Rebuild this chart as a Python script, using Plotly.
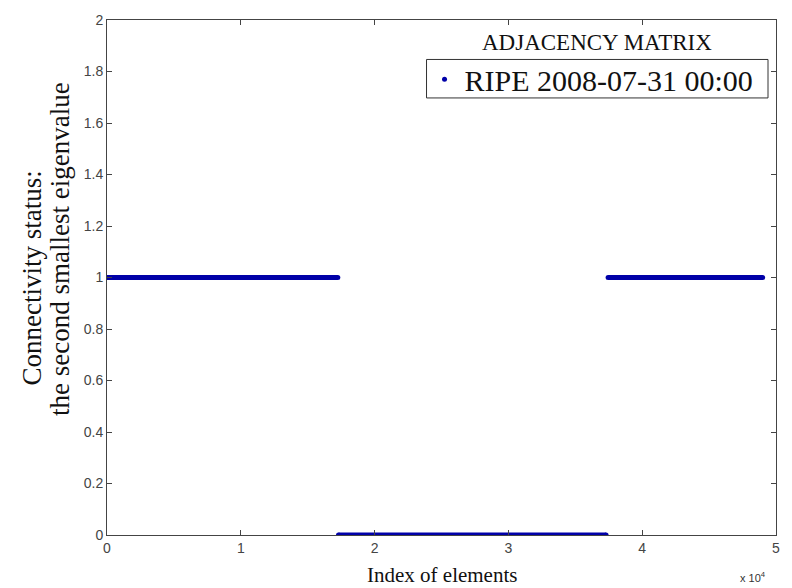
import plotly.graph_objects as go

# Segment endpoints (index of elements, eigenvalue)
seg1_x = [0, 17250]
seg1_y = [1, 1]
seg2_x = [17300, 37300]
seg2_y = [0, 0]
seg3_x = [37450, 49000]
seg3_y = [1, 1]

x_ticks = [0, 10000, 20000, 30000, 40000, 50000]
x_ticktext = ["0", "1", "2", "3", "4", "5"]
y_ticks = [0, 0.2, 0.4, 0.6, 0.8, 1, 1.2, 1.4, 1.6, 1.8, 2]
y_ticktext = ["0", "0.2", "0.4", "0.6", "0.8", "1", "1.2", "1.4", "1.6", "1.8", "2"]

series_name = "RIPE 2008-07-31 00:00"
legend_title = "ADJACENCY MATRIX"
y_title_lines = ["Connectivity status:", "the second smallest eigenvalue"]
x_title = "Index of elements"
color = "#0000A8"

xs = seg1_x + [None] + seg2_x + [None] + seg3_x
ys = seg1_y + [None] + seg2_y + [None] + seg3_y

fig = go.Figure()
fig.add_trace(go.Scatter(x=xs, y=ys, mode="lines+markers",
                         line=dict(color=color, width=5),
                         marker=dict(color=color, size=5),
                         showlegend=False, connectgaps=False))
fig.add_trace(go.Scatter(x=[None], y=[None], mode="markers", name=series_name,
                         marker=dict(color=color, size=5)))

axis_common = dict(showline=True, linecolor="#444", linewidth=1, mirror="ticks",
                   ticks="inside", ticklen=5, tickcolor="#444", showgrid=False,
                   zeroline=False, tickfont=dict(family="Liberation Sans", size=14, color="#444"))

fig.update_xaxes(range=[0, 50000], tickvals=x_ticks, ticktext=x_ticktext, **axis_common)
fig.update_yaxes(range=[0, 2], tickvals=y_ticks, ticktext=y_ticktext, **axis_common)

L, R, T, B = 107, 15, 13, 53
PW, PH = 792 - L - R, 588 - T - B


def px_x(p):
    return (p - L) / PW


def px_y(p):
    return (588 - B - p) / PH


serif = "Liberation Serif"
annotations = [
    dict(text=legend_title, xref="paper", yref="paper", x=px_x(598), y=px_y(36),
         xanchor="center", yanchor="middle", showarrow=False,
         font=dict(family=serif, size=23, color="#111")),
    dict(text="x 10<sup>4</sup>", xref="paper", yref="paper", x=px_x(754), y=px_y(578),
         xanchor="center", yanchor="middle", showarrow=False,
         font=dict(family="Liberation Sans", size=11, color="#333")),
    dict(text=x_title, xref="paper", yref="paper", x=px_x(443), y=px_y(576),
         xanchor="center", yanchor="middle", showarrow=False,
         font=dict(family=serif, size=21, color="#111")),
    dict(text=y_title_lines[0], xref="paper", yref="paper", x=px_x(32), y=px_y(275),
         xanchor="center", yanchor="middle", showarrow=False, textangle=-90,
         font=dict(family=serif, size=27, color="#111")),
    dict(text=y_title_lines[1], xref="paper", yref="paper", x=px_x(60), y=px_y(245),
         xanchor="center", yanchor="middle", showarrow=False, textangle=-90,
         font=dict(family=serif, size=27, color="#111")),
]

fig.update_layout(
    width=792, height=588,
    margin=dict(l=L, r=R, t=T, b=B),
    paper_bgcolor="white", plot_bgcolor="white",
    legend=dict(x=px_x(425), y=px_y(73), xanchor="left", yanchor="middle",
                borderwidth=0, bgcolor="rgba(0,0,0,0)",
                font=dict(family=serif, size=30, color="#111"),
                itemwidth=30),
    annotations=annotations,
    shapes=[dict(type="rect", xref="paper", yref="paper",
                 x0=px_x(427), x1=px_x(769), y0=px_y(92), y1=px_y(53),
                 line=dict(color="#333", width=1), fillcolor="white", layer="below")],
)

fig.write_html("out.html")
